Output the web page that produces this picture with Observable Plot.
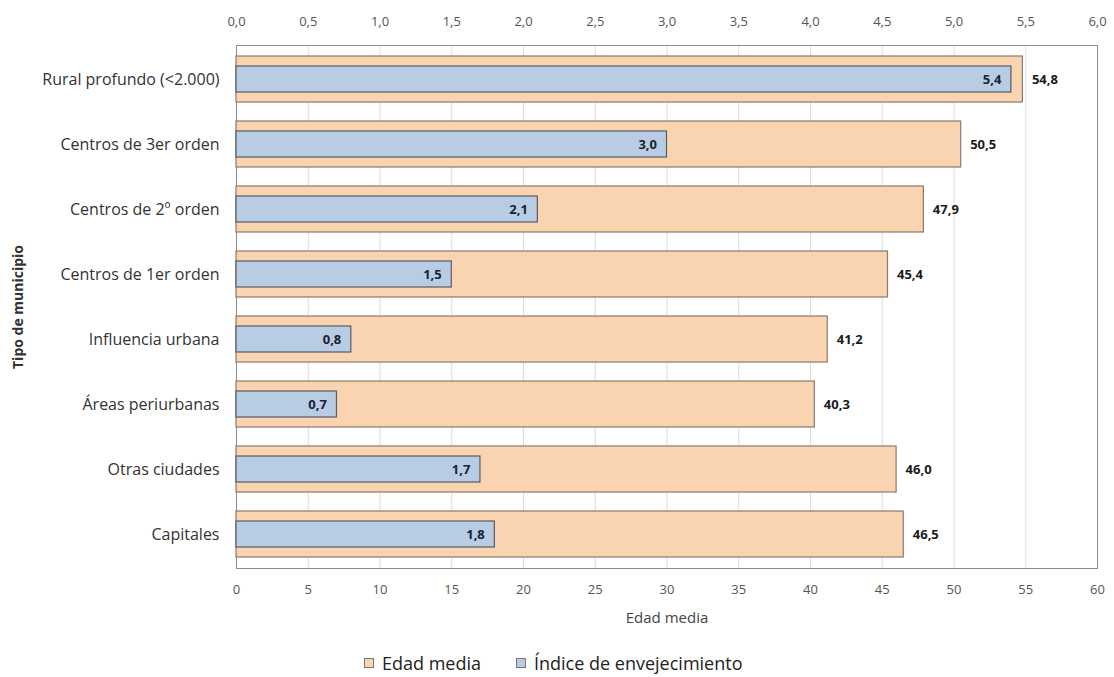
<!DOCTYPE html>
<html>
<head>
<meta charset="utf-8">
<script src="https://cdn.jsdelivr.net/npm/d3@7"></script>
<script src="https://cdn.jsdelivr.net/npm/@observablehq/plot@0.6"></script>
<style>
  body { margin: 0; background: #fff; font-family: "Open Sans", sans-serif; }
  #legend { position: relative; height: 37px; font-size: 18px; color: #222; }
  .item { position: absolute; top: 12px; display: flex; align-items: center; gap: 8px; line-height: 22px; }
  .sw { width: 8px; height: 8px; border: 1px solid #777; display: inline-block; }
</style>
</head>
<body>
<div id="chart"></div>
<div id="legend">
  <span class="item" style="left:364px"><span class="sw" style="background:#FAD3B0"></span>Edad media</span>
  <span class="item" style="left:516px"><span class="sw" style="background:#B8CCE4"></span>Índice de envejecimiento</span>
</div>
<script>
const categories = ["Rural profundo (<2.000)", "Centros de 3er orden", "Centros de 2º orden", "Centros de 1er orden", "Influencia urbana", "Áreas periurbanas", "Otras ciudades", "Capitales"];
const edadMedia = [54.8, 50.5, 47.9, 45.4, 41.2, 40.3, 46.0, 46.5];
const indiceEnvejecimiento = [5.4, 3.0, 2.1, 1.5, 0.8, 0.7, 1.7, 1.8];
const bottomTicks = [0, 5, 10, 15, 20, 25, 30, 35, 40, 45, 50, 55, 60];
const topTicks = [0, 0.5, 1, 1.5, 2, 2.5, 3, 3.5, 4, 4.5, 5, 5.5, 6];

const rows = categories.map((c, i) => ({cat: c, edad: edadMedia[i], indice: indiceEnvejecimiento[i]}));
const fmt1 = v => v.toFixed(1).replace(".", ",");
const RATIO = 10; // top axis (índice) 0–6 shares the width of the bottom axis 0–60

const chart = Plot.plot({
  width: 1114,
  height: 640,
  marginLeft: 236,
  marginRight: 17,
  marginTop: 45,
  marginBottom: 72,
  style: {fontFamily: "'Open Sans', sans-serif", fontSize: "12px", color: "#444"},
  x: {domain: [0, 60], axis: null},
  y: {domain: categories, paddingInner: 0.3, paddingOuter: 0.15, axis: null},
  marks: [
    Plot.ruleX(bottomTicks.slice(1, -1), {stroke: "#dcdcdc", strokeWidth: 1}),
    Plot.frame({stroke: "#8c8c8c"}),
    Plot.barX(rows, {y: "cat", x: "edad", fill: "#FAD3B0", stroke: "#8a7a6e", strokeWidth: 1.2}),
    Plot.barX(rows, {y: "cat", x: d => d.indice * RATIO, fill: "#B8CCE4", stroke: "#555b66", strokeWidth: 1.2, insetTop: 10, insetBottom: 10}),
    Plot.text(rows, {y: "cat", x: d => d.indice * RATIO, text: d => fmt1(d.indice), textAnchor: "end", dx: -10, fontWeight: "bold", fontSize: 13, fill: "#1b2233"}),
    Plot.text(rows, {y: "cat", x: "edad", text: d => fmt1(d.edad), textAnchor: "start", dx: 9, fontWeight: "bold", fontSize: 13, fill: "#1a1a1a"}),
    Plot.axisX(bottomTicks, {anchor: "bottom", tickSize: 0, tickPadding: 16, fontSize: 13, fill: "#555", label: null}),
    Plot.axisX(topTicks.map(t => t * RATIO), {anchor: "top", tickSize: 0, tickPadding: 20, fontSize: 13, fill: "#555", label: null, tickFormat: d => fmt1(d / RATIO)}),
    Plot.axisY({anchor: "left", tickSize: 0, tickPadding: 17, fontSize: 16, fill: "#333", label: null}),
    Plot.text(["Edad media"], {frameAnchor: "bottom", dy: 54, fontSize: 15, fill: "#444"}),
    Plot.text(["Tipo de municipio"], {frameAnchor: "left", textAnchor: "middle", dx: -218, rotate: -90, fontSize: 14, fontWeight: "bold", fill: "#333"})
  ]
});
document.getElementById("chart").appendChild(chart);
</script>
</body>
</html>
